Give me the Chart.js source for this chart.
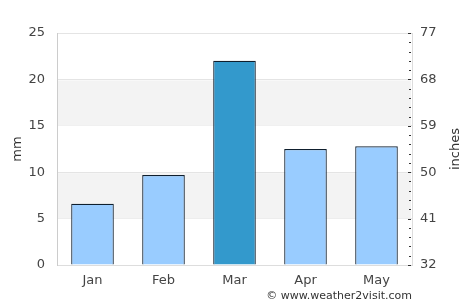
<!DOCTYPE html>
<html>
<head>
<meta charset="utf-8">
<script src="https://cdn.jsdelivr.net/npm/chart.js@4"></script>
<style>
  html, body { margin: 0; padding: 0; background: #fff; }
  #wrap { width: 474px; height: 308px; }
</style>
</head>
<body>
<div id="wrap"><canvas id="rainChart" width="474" height="308"></canvas></div>
<script>
// Datos del gráfico
const months = ['Jan', 'Feb', 'Mar', 'Apr', 'May'];
const rainfallMm = [6.6, 9.7, 22, 12.5, 12.8];
const barColors = ['#99ccff', '#99ccff', '#3399cc', '#99ccff', '#99ccff'];
const mmTicks = [0, 5, 10, 15, 20, 25];
const inchTicks = [32, 41, 50, 59, 68, 77];
const shadedBands = [[5, 10], [15, 20]];

// Bandas grises de fondo
const bandsPlugin = {
    id: 'bands',
    beforeDatasetsDraw(chart) {
        const { ctx, chartArea, scales } = chart;
        ctx.save();
        ctx.fillStyle = '#f3f3f3';
        shadedBands.forEach(b => {
            const yTop = scales.y.getPixelForValue(b[1]);
            const yBot = scales.y.getPixelForValue(b[0]);
            ctx.fillRect(chartArea.left + 1, yTop + 1, chartArea.right - chartArea.left - 2, yBot - yTop - 1);
        });
        ctx.restore();
    }
};

// Títulos de ejes, marcas menores y pie
const extrasPlugin = {
    id: 'extras',
    afterDraw(chart) {
        const { ctx, chartArea, scales } = chart;
        ctx.save();
        ctx.strokeStyle = '#333';
        ctx.lineWidth = 1;
        scales.y2.ticks.forEach((t, i) => {
            const y = Math.round(scales.y2.getPixelForValue(t.value)) + 0.5;
            ctx.beginPath();
            ctx.moveTo(chartArea.right - (i % 5 === 0 ? 4 : 3), y);
            ctx.lineTo(chartArea.right - 1, y);
            ctx.stroke();
        });

        ctx.fillStyle = '#333';
        ctx.font = '13px "DejaVu Sans"';
        ctx.textAlign = 'center';
        ctx.textBaseline = 'middle';
        const midY = (chartArea.top + chartArea.bottom) / 2;
        ctx.translate(18, midY);
        ctx.rotate(-Math.PI / 2);
        ctx.fillText('mm', 0, 0);
        ctx.setTransform(1, 0, 0, 1, 0, 0);
        ctx.translate(456, midY);
        ctx.rotate(-Math.PI / 2);
        ctx.fillText('inches', 0, 0);
        ctx.setTransform(1, 0, 0, 1, 0, 0);

        ctx.font = '11px "DejaVu Sans"';
        ctx.textAlign = 'right';
        ctx.fillText('© www.weather2visit.com', chartArea.right, 296);
        ctx.restore();
    }
};

const tickFont = { family: '"DejaVu Sans"', size: 13 };

new Chart(document.getElementById('rainChart'), {
    type: 'bar',
    data: {
        labels: months,
        datasets: [{
            data: rainfallMm,
            backgroundColor: barColors,
            borderColor: '#0f1f2e',
            borderWidth: 1.2,
            borderSkipped: 'bottom',
            barPercentage: 0.6,
            categoryPercentage: 1
        }]
    },
    options: {
        responsive: false,
        animation: false,
        layout: { padding: { top: 33, left: 0, right: 0, bottom: 0 } },
        plugins: { legend: { display: false }, tooltip: { enabled: false } },
        scales: {
            x: {
                grid: { display: false, drawTicks: false },
                border: { color: '#dddddd' },
                ticks: { color: '#444', font: tickFont, padding: 8 },
                afterFit(scale) { scale.height = 43; }
            },
            y: {
                min: 0, max: 25,
                afterBuildTicks(scale) { scale.ticks = mmTicks.map(v => ({ value: v })); },
                grid: { color: '#e4e4e4', drawTicks: false },
                border: { color: '#cccccc' },
                ticks: { color: '#444', font: tickFont, padding: 12 },
                afterFit(scale) { scale.width = 57; }
            },
            y2: {
                position: 'right',
                min: inchTicks[0], max: inchTicks[inchTicks.length - 1],
                afterBuildTicks(scale) {
                    const step = (inchTicks[1] - inchTicks[0]) / 5;
                    const list = [];
                    for (let i = 0; i <= (inchTicks.length - 1) * 5; i++) {
                        list.push({ value: inchTicks[0] + i * step });
                    }
                    scale.ticks = list;
                },
                grid: { display: false, drawTicks: false },
                border: { display: true, color: '#dddddd' },
                ticks: {
                    color: '#444', font: tickFont, padding: 8, autoSkip: false,
                    callback: (v, i) => (i % 5 === 0 ? inchTicks[i / 5] : '')
                },
                afterFit(scale) { scale.width = 62; }
            }
        }
    },
    plugins: [bandsPlugin, extrasPlugin]
});
</script>
</body>
</html>
